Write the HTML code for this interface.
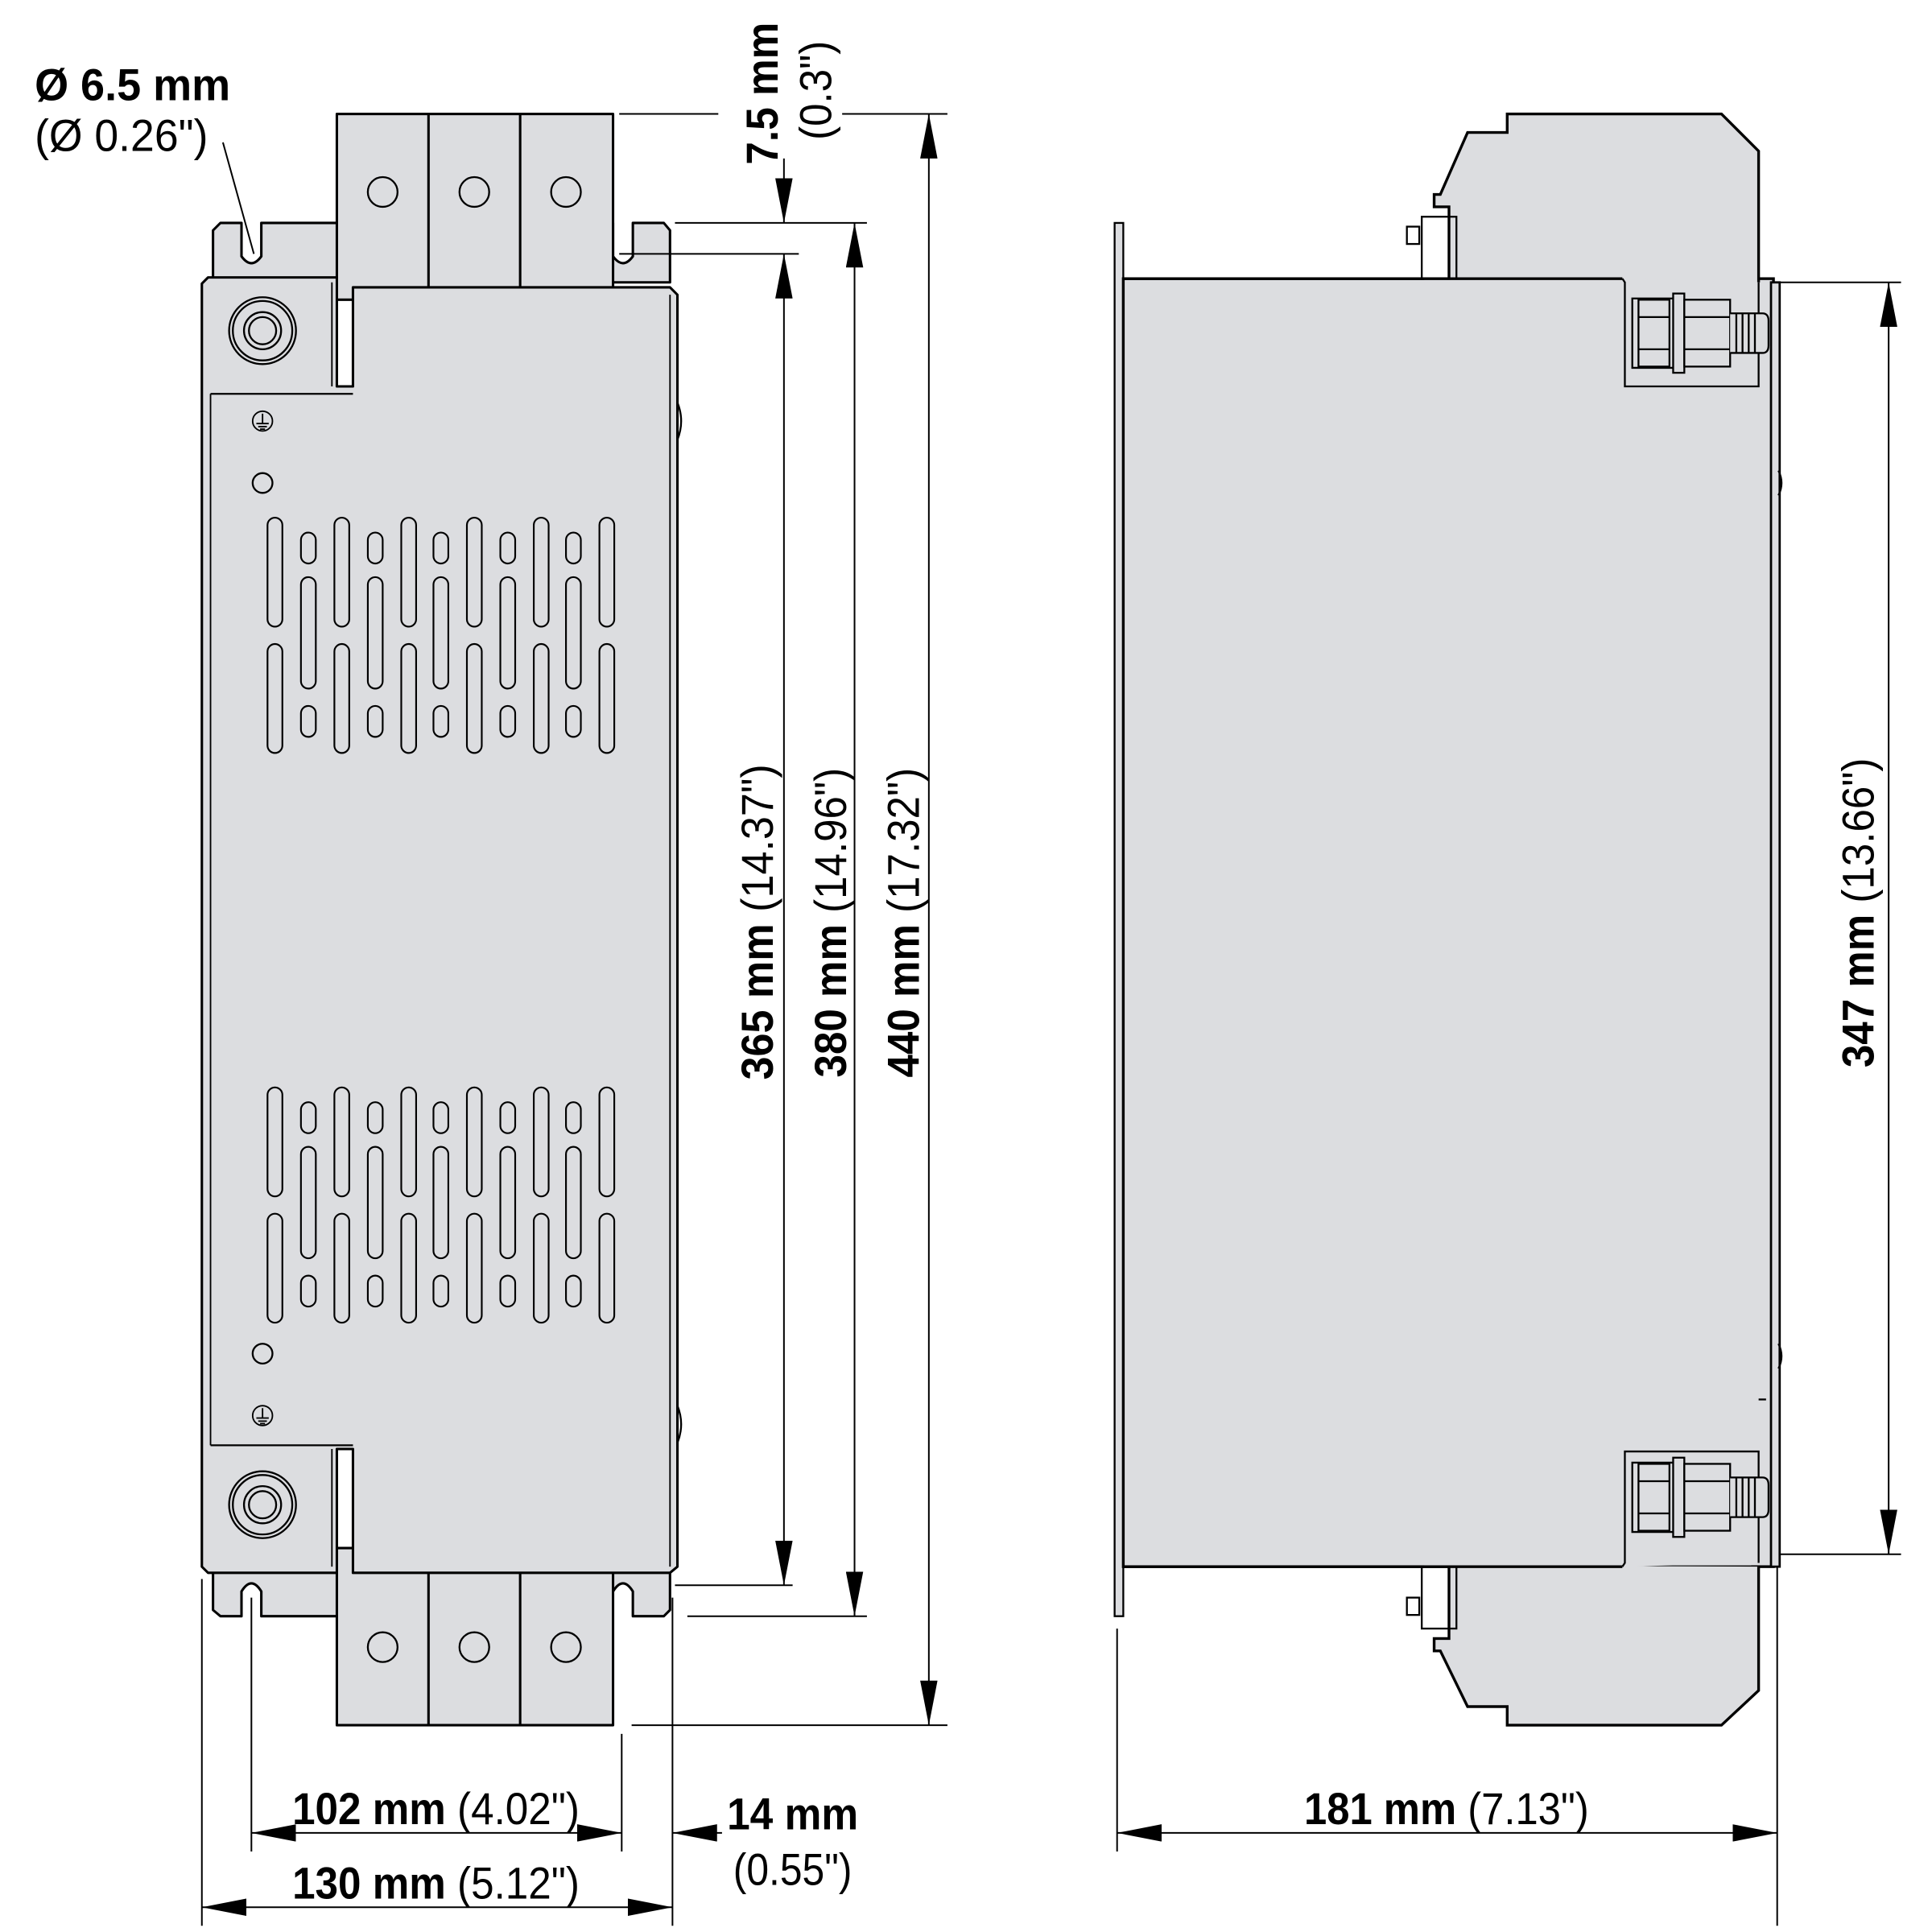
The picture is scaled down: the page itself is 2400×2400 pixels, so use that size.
<!DOCTYPE html>
<html><head><meta charset="utf-8"><style>
html,body{margin:0;padding:0;background:#fff;}
svg{display:block;}
text{font-family:"Liberation Sans",sans-serif;}
.b{font-weight:bold;}
</style></head><body>
<svg width="2400" height="2400" viewBox="0 0 1560 1560" xmlns="http://www.w3.org/2000/svg">
<defs>
<marker id="a" viewBox="0 0 10 10" refX="10" refY="5" markerWidth="36" markerHeight="14" markerUnits="userSpaceOnUse" orient="auto-start-reverse" preserveAspectRatio="none">
<path d="M0,0 L10,5 L0,10 z" fill="#000"/></marker>
<g id="slots">
<g fill="none" stroke="#000" stroke-width="1.4">
<rect x="216" y="418" width="12" height="88" rx="6"/><rect x="216" y="520" width="12" height="88" rx="6"/>
<rect x="270" y="418" width="12" height="88" rx="6"/><rect x="270" y="520" width="12" height="88" rx="6"/>
<rect x="324" y="418" width="12" height="88" rx="6"/><rect x="324" y="520" width="12" height="88" rx="6"/>
<rect x="377" y="418" width="12" height="88" rx="6"/><rect x="377" y="520" width="12" height="88" rx="6"/>
<rect x="431" y="418" width="12" height="88" rx="6"/><rect x="431" y="520" width="12" height="88" rx="6"/>
<rect x="484" y="418" width="12" height="88" rx="6"/><rect x="484" y="520" width="12" height="88" rx="6"/>
<rect x="243" y="430" width="12" height="25" rx="6"/><rect x="243" y="466" width="12" height="90" rx="6"/><rect x="243" y="570" width="12" height="25" rx="6"/>
<rect x="297" y="430" width="12" height="25" rx="6"/><rect x="297" y="466" width="12" height="90" rx="6"/><rect x="297" y="570" width="12" height="25" rx="6"/>
<rect x="350" y="430" width="12" height="25" rx="6"/><rect x="350" y="466" width="12" height="90" rx="6"/><rect x="350" y="570" width="12" height="25" rx="6"/>
<rect x="404" y="430" width="12" height="25" rx="6"/><rect x="404" y="466" width="12" height="90" rx="6"/><rect x="404" y="570" width="12" height="25" rx="6"/>
<rect x="457" y="430" width="12" height="25" rx="6"/><rect x="457" y="466" width="12" height="90" rx="6"/><rect x="457" y="570" width="12" height="25" rx="6"/>
</g></g>
<g id="gnd" fill="none" stroke="#000" stroke-width="1.2"><circle cx="0" cy="0" r="8"/><line x1="0" y1="-6" x2="0" y2="2"/><line x1="-5" y1="2" x2="5" y2="2"/><line x1="-3.5" y1="4.5" x2="3.5" y2="4.5"/><line x1="-2" y1="6.5" x2="2" y2="6.5"/></g>
<g id="stud" fill="none" stroke="#000" stroke-width="1.5"><circle r="27"/><circle r="24"/><circle r="15"/><circle r="11"/></g>
<g id="nut" stroke="#000" stroke-width="1.5" fill="#dcdde0">
<path d="M0,0 L0,-28 L40,-28 L42,-25 L42,25 L40,28 L0,28 Z"/>
<rect x="5" y="-27" width="25" height="54" fill="none"/>
<line x1="5" y1="-13" x2="30" y2="-13"/><line x1="5" y1="13" x2="30" y2="13"/>
<rect x="33" y="-32" width="9" height="64"/>
<rect x="42" y="-27" width="37" height="54"/>
<line x1="42" y1="-13" x2="79" y2="-13"/><line x1="42" y1="13" x2="79" y2="13"/>
<path d="M79,-16 L105,-16 Q110,-16 110,-10 L110,10 Q110,16 105,16 L79,16" fill="#dcdde0"/>
<line x1="84" y1="-16" x2="84" y2="16"/><line x1="89" y1="-16" x2="89" y2="16"/><line x1="94" y1="-16" x2="94" y2="16"/><line x1="99" y1="-16" x2="99" y2="16"/>
</g>
</defs>

<!-- LEFT VIEW -->
<g stroke="#000" stroke-width="2" fill="#dcdde0" stroke-linejoin="round">
<rect x="272" y="92" width="223" height="150"/>
<line x1="346" y1="92" x2="346" y2="232"/><line x1="420" y1="92" x2="420" y2="232"/>
<rect x="272" y="1250" width="223" height="143"/>
<line x1="346" y1="1257" x2="346" y2="1393"/><line x1="420" y1="1257" x2="420" y2="1393"/>
<path d="M178,180 L195,180 L195,207 Q203,218 211,207 L211,180 L272,180 L272,228 L172,228 L172,186 Z"/>
<path d="M495,180 L495,207 Q503,218 511,207 L511,180 L536,180 L541,186 L541,228 L495,228 Z"/>
<path d="M172,1265 L272,1265 L272,1305 L211,1305 L211,1285 Q203,1272 195,1285 L195,1305 L178,1305 L172,1300 Z"/>
<path d="M495,1265 L541,1265 L541,1300 L536,1305 L511,1305 L511,1285 Q503,1272 495,1285 Z"/>
<path d="M168,224 L272,224 L272,312 L285,312 L285,232 L541,232 L547,238 L547,1265 L541,1270 L285,1270 L285,1170 L272,1170 L272,1270 L168,1270 L163,1265 L163,229 Z"/>
<line x1="170" y1="318" x2="285" y2="318" stroke-width="1.5"/>
<line x1="170" y1="1167" x2="285" y2="1167" stroke-width="1.5"/>
<line x1="170" y1="318" x2="170" y2="1167" stroke-width="1.2"/>
<line x1="541" y1="238" x2="541" y2="1265" stroke-width="1.2"/>
<line x1="268" y1="228" x2="268" y2="312" stroke-width="1.2"/>
<line x1="268" y1="1170" x2="268" y2="1265" stroke-width="1.2"/>
</g>
<g fill="none" stroke="#000" stroke-width="1.5">
<circle cx="309" cy="155" r="12"/><circle cx="383" cy="155" r="12"/><circle cx="457" cy="155" r="12"/>
<circle cx="309" cy="1330" r="12"/><circle cx="383" cy="1330" r="12"/><circle cx="457" cy="1330" r="12"/>
<circle cx="212" cy="390" r="8"/><circle cx="212" cy="1093" r="8"/>
<path d="M547,325 q6,15 0,30"/><path d="M547,1135 q6,15 0,30"/>
</g>
<use href="#stud" x="212" y="267"/>
<use href="#stud" x="212" y="1215"/>
<use href="#gnd" x="212" y="340"/>
<use href="#gnd" x="212" y="1143"/>
<use href="#slots"/>
<use href="#slots" y="460"/>

<!-- RIGHT VIEW -->
<g stroke="#000" stroke-width="2.2" fill="#dcdde0" stroke-linejoin="miter">
<rect x="900" y="180" width="7" height="1125" stroke-width="1.5"/>
<rect x="907" y="225" width="525" height="1040"/>
<path d="M1170,226 L1170,167 L1158,167 L1158,157 L1163,157 L1185,107 L1217,107 L1217,92 L1390,92 L1420,122 L1420,228" />
<path d="M1170,1264 L1170,1323 L1158,1323 L1158,1333 L1163,1333 L1185,1378 L1217,1378 L1217,1393 L1390,1393 L1420,1365 L1420,1265" />
<rect x="1430" y="228" width="7" height="1037" stroke-width="1.8"/>
<rect x="1150" y="226" width="264" height="4" stroke="none"/>
<rect x="1150" y="1260" width="264" height="4" stroke="none"/>
</g>
<g fill="none" stroke="#000" stroke-width="1.5">
<line x1="907" y1="225" x2="1310" y2="225" stroke-width="2.2"/>
<line x1="907" y1="1265" x2="1310" y2="1265" stroke-width="2.2"/>
<path d="M1310,225 L1312,228 L1312,312 L1420,312 L1420,228" fill="#dcdde0"/>
<path d="M1310,1265 L1312,1262 L1312,1172 L1420,1172 L1420,1262" fill="#dcdde0"/>
<rect x="1148" y="175" width="28" height="50"/><rect x="1148" y="1265" width="28" height="50"/>
<rect x="1136" y="183" width="10" height="14"/><rect x="1136" y="1290" width="10" height="14"/>
<path d="M1436,380 q5,10 0,20"/><path d="M1436,1085 q5,10 0,20"/>
<line x1="1420" y1="270" x2="1426" y2="270"/><line x1="1420" y1="1130" x2="1426" y2="1130"/>
</g>
<use href="#nut" x="1318" y="269"/>
<use href="#nut" x="1318" y="1209"/>

<!-- DIMENSIONS -->
<g stroke="#000" stroke-width="1.3" fill="none">
<line x1="500" y1="92" x2="580" y2="92"/><line x1="680" y1="92" x2="765" y2="92"/>
<line x1="545" y1="180" x2="700" y2="180"/>
<line x1="500" y1="205" x2="645" y2="205"/>
<line x1="545" y1="1280" x2="640" y2="1280"/>
<line x1="555" y1="1305" x2="700" y2="1305"/>
<line x1="510" y1="1393" x2="765" y2="1393"/>
<line x1="633" y1="128" x2="633" y2="180" marker-end="url(#a)"/>
<line x1="633" y1="205" x2="633" y2="1280" marker-start="url(#a)" marker-end="url(#a)"/>
<line x1="690" y1="180" x2="690" y2="1305" marker-start="url(#a)" marker-end="url(#a)"/>
<line x1="750" y1="92" x2="750" y2="1393" marker-start="url(#a)" marker-end="url(#a)"/>
<line x1="163" y1="1275" x2="163" y2="1555"/><line x1="203" y1="1290" x2="203" y2="1495"/>
<line x1="502" y1="1400" x2="502" y2="1495"/><line x1="543" y1="1290" x2="543" y2="1555"/>
<line x1="203" y1="1480" x2="502" y2="1480" marker-start="url(#a)" marker-end="url(#a)"/>
<line x1="583" y1="1480" x2="543" y2="1480" marker-end="url(#a)"/>
<line x1="163" y1="1540" x2="543" y2="1540" marker-start="url(#a)" marker-end="url(#a)"/>
<line x1="180" y1="115" x2="205" y2="205"/>
<line x1="1437" y1="228" x2="1535" y2="228"/><line x1="1437" y1="1255" x2="1535" y2="1255"/>
<line x1="1525" y1="228" x2="1525" y2="1255" marker-start="url(#a)" marker-end="url(#a)"/>
<line x1="902" y1="1315" x2="902" y2="1495"/><line x1="1435" y1="1265" x2="1435" y2="1555"/>
<line x1="902" y1="1480" x2="1435" y2="1480" marker-start="url(#a)" marker-end="url(#a)"/>
</g>

<g font-size="36" fill="#000">
<text x="28" y="81" class="b" textLength="158" lengthAdjust="spacingAndGlyphs">Ø 6.5 mm</text>
<text x="28" y="122" textLength="140" lengthAdjust="spacingAndGlyphs">(Ø 0.26")</text>
<text transform="translate(628,133) rotate(-90)" class="b" textLength="115" lengthAdjust="spacingAndGlyphs">7.5 mm</text>
<text transform="translate(671,113) rotate(-90)" textLength="80" lengthAdjust="spacingAndGlyphs">(0.3")</text>
<text transform="translate(624,872) rotate(-90)" textLength="255" lengthAdjust="spacingAndGlyphs"><tspan class="b">365 mm</tspan> (14.37")</text>
<text transform="translate(683,870) rotate(-90)" textLength="250" lengthAdjust="spacingAndGlyphs"><tspan class="b">380 mm</tspan> (14.96")</text>
<text transform="translate(742,870) rotate(-90)" textLength="250" lengthAdjust="spacingAndGlyphs"><tspan class="b">440 mm</tspan> (17.32")</text>
<text transform="translate(1513,862) rotate(-90)" textLength="250" lengthAdjust="spacingAndGlyphs"><tspan class="b">347 mm</tspan> (13.66")</text>
<text x="236" y="1473" textLength="232" lengthAdjust="spacingAndGlyphs"><tspan class="b">102 mm</tspan> (4.02")</text>
<text x="236" y="1533" textLength="232" lengthAdjust="spacingAndGlyphs"><tspan class="b">130 mm</tspan> (5.12")</text>
<text x="587" y="1477" class="b" textLength="106" lengthAdjust="spacingAndGlyphs">14 mm</text>
<text x="592" y="1522" textLength="96" lengthAdjust="spacingAndGlyphs">(0.55")</text>
<text x="1053" y="1473" textLength="230" lengthAdjust="spacingAndGlyphs"><tspan class="b">181 mm</tspan> (7.13")</text>
</g>
</svg>
</body></html>
